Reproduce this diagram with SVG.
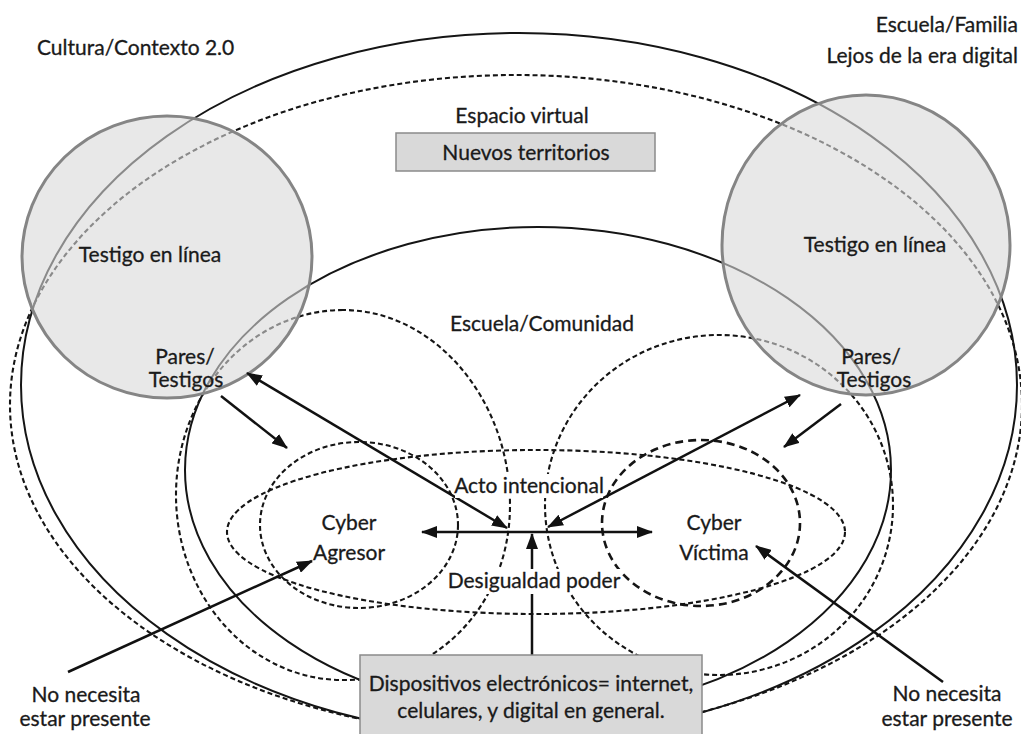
<svg xmlns="http://www.w3.org/2000/svg" width="1021" height="734" viewBox="0 0 1021 734">
  <style>
    .solid { fill: none; stroke: #151515; stroke-width: 2; }
    .dash { fill: none; stroke: #151515; stroke-width: 2.1; stroke-dasharray: 5 3; }
    .dash-bold { fill: none; stroke: #151515; stroke-width: 2.6; stroke-dasharray: 8 5; }
    .witness { fill: #d8d8d8; fill-opacity: 0.6; stroke: #858585; stroke-width: 3; }
    .box { fill: #d9d9d9; stroke: #8a8a8a; stroke-width: 1.5; }
    .arrow { fill: none; stroke: #111; stroke-width: 2.5; }
    text { font-family: Lato, "Open Sans", "Liberation Sans", sans-serif; font-size: 21px; fill: #1a1a1a; stroke: #1a1a1a; stroke-width: 0.3; }
    .mid { text-anchor: middle; }
    .end { text-anchor: end; }
  </style>
  <defs>
    <marker id="ah" markerUnits="userSpaceOnUse" viewBox="0 0 16 12" markerWidth="16" markerHeight="12" refX="15" refY="6" orient="auto-start-reverse">
      <path d="M0,0 L16,6 L0,12 z" fill="#111"/>
    </marker>
  </defs>

  <rect width="1021" height="734" fill="#ffffff"/>

  <!-- context rings -->
  <g id="rings">
    <ellipse id="familia" class="solid" cx="519" cy="385" rx="498" ry="352"/>
    <ellipse id="cultura" class="dash" cx="516" cy="405" rx="506" ry="330"/>
    <ellipse id="comunidad" class="solid" cx="538" cy="470" rx="353" ry="243"/>
    <path id="pares-izq" class="dash" d="M343,310 A167,185 0 0 0 343,680 C430,682 510,610 510,505 C510,400 435,310 343,310 Z"/>
    <ellipse id="pares-der" class="dash" cx="719" cy="505" rx="174" ry="170"/>
    <ellipse id="acto" class="dash" cx="536" cy="532" rx="309" ry="82"/>
    <ellipse id="agresor" class="dash" cx="359" cy="525" rx="99" ry="83"/>
    <ellipse id="victima" class="dash-bold" cx="701" cy="523" rx="99" ry="83"/>
  </g>

  <!-- online witnesses -->
  <g id="testigo-izq">
    <ellipse class="witness" cx="167" cy="257" rx="145" ry="141"/>
  </g>
  <g id="testigo-der">
    <ellipse class="witness" cx="866" cy="245" rx="144" ry="150"/>
  </g>

  <!-- connectors -->
  <g id="connectors">
    <line class="arrow" x1="507" y1="528" x2="247" y2="373" marker-start="url(#ah)" marker-end="url(#ah)"/>
    <line class="arrow" x1="548" y1="527" x2="800" y2="395" marker-start="url(#ah)" marker-end="url(#ah)"/>
    <line class="arrow" x1="422" y1="532" x2="652" y2="532" marker-start="url(#ah)" marker-end="url(#ah)"/>
    <line class="arrow" x1="532" y1="655" x2="532" y2="534" marker-end="url(#ah)"/>
    <line class="arrow" x1="221" y1="396" x2="287" y2="448" marker-end="url(#ah)"/>
    <line class="arrow" x1="841" y1="404" x2="784" y2="447" marker-end="url(#ah)"/>
    <line class="arrow" x1="68" y1="672" x2="312" y2="561" marker-end="url(#ah)"/>
    <line class="arrow" x1="943" y1="682" x2="756" y2="546" marker-end="url(#ah)"/>
  </g>

  <!-- label backgrounds that cut the lines -->
  <g id="label-backs" fill="#ffffff">
    <rect x="455" y="474" width="148" height="24"/>
    <rect x="447" y="569" width="174" height="25"/>
  </g>

  <!-- boxes -->
  <g id="nuevos-territorios">
    <rect class="box" x="396" y="133" width="259" height="38"/>
    <text class="mid" x="526" y="160">Nuevos territorios</text>
  </g>
  <g id="dispositivos">
    <rect class="box" x="360" y="655" width="342" height="82"/>
    <text class="mid" x="531" y="691">Dispositivos electrónicos= internet,</text>
    <text class="mid" x="531" y="718">celulares, y digital en general.</text>
  </g>

  <!-- labels -->
  <g id="labels">
    <text x="37" y="55">Cultura/Contexto 2.0</text>
    <text class="end" x="1018" y="32">Escuela/Familia</text>
    <text class="end" x="1018" y="63">Lejos de la era digital</text>
    <text class="mid" x="522" y="123">Espacio virtual</text>
    <text class="mid" x="150" y="262">Testigo en línea</text>
    <text class="mid" x="875" y="252">Testigo en línea</text>
    <text class="mid" x="185" y="364">Pares/</text>
    <text class="mid" x="186" y="387">Testigos</text>
    <text class="mid" x="871" y="364">Pares/</text>
    <text class="mid" x="874" y="387">Testigos</text>
    <text class="mid" x="542" y="331">Escuela/Comunidad</text>
    <text class="mid" x="529" y="493">Acto intencional</text>
    <text class="mid" x="349" y="530">Cyber</text>
    <text class="mid" x="349" y="560">Agresor</text>
    <text class="mid" x="534" y="588">Desigualdad poder</text>
    <text class="mid" x="714" y="530">Cyber</text>
    <text class="mid" x="714" y="560">Víctima</text>
    <text class="mid" x="86" y="702">No necesita</text>
    <text class="mid" x="85" y="726">estar presente</text>
    <text class="mid" x="947" y="701">No necesita</text>
    <text class="mid" x="947" y="726">estar presente</text>
  </g>
</svg>
